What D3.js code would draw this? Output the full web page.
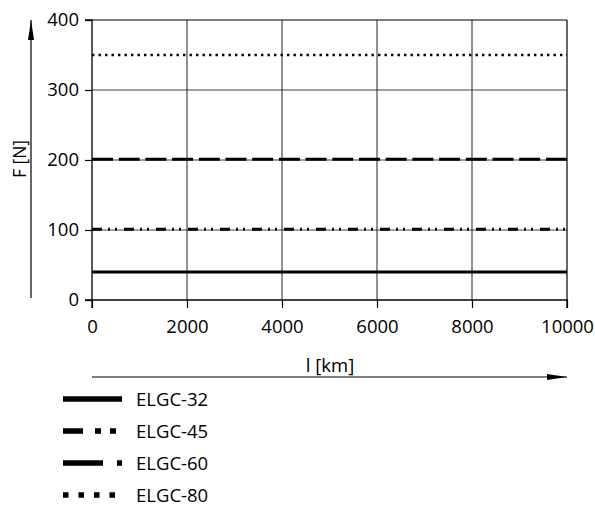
<!DOCTYPE html>
<html><head><meta charset="utf-8">
<script src="https://cdn.jsdelivr.net/npm/d3@7"></script>
<style>
body{margin:0;background:#fff;}
text{font-family:"Open Sans","Noto Sans",sans-serif;fill:#000;}
</style></head>
<body><svg id="c" width="595" height="509"></svg>
<script>
// Data
const distances = [0, 10000];             // l [km]
const seriesNames = ["ELGC-32", "ELGC-45", "ELGC-60", "ELGC-80"];
const seriesValues = [40, 101, 201, 350];  // F [N], constant over distance
const xTicks = [0, 2000, 4000, 6000, 8000, 10000];
const yTicks = [0, 100, 200, 300, 400];
const xLabel = "l [km]";
const yLabel = "F [N]";

const plotDash = ["", "10,6,2,5,2,7", "21,5.7", "2.4,4.1"];
const legendDash = ["", "20,12,6,9,6", "40,14,5", "5.5,10"];

const svg = d3.select("#c");
const m = {l: 92, r: 567, t: 20, b: 300};
const x = d3.scaleLinear().domain([0, 10000]).range([m.l, m.r]);
const y = d3.scaleLinear().domain([0, 400]).range([m.b, m.t]);

// horizontal grid (gray)
svg.append("g").selectAll("line").data(yTicks.filter(v => v > 0 && v < 400)).join("line")
  .attr("x1", m.l).attr("x2", m.r).attr("y1", d => y(d)).attr("y2", d => y(d))
  .attr("stroke", "#808080").attr("stroke-width", 1.3);
// vertical grid
svg.append("g").selectAll("line").data(xTicks.filter(v => v > 0 && v < 10000)).join("line")
  .attr("x1", d => x(d)).attr("x2", d => x(d)).attr("y1", m.t).attr("y2", m.b)
  .attr("stroke", "#222").attr("stroke-width", 1);

// top & right border
svg.append("line").attr("x1", m.l).attr("x2", m.r).attr("y1", m.t).attr("y2", m.t).attr("stroke", "#000").attr("stroke-width", 1.2);
svg.append("line").attr("x1", m.r).attr("x2", m.r).attr("y1", m.t).attr("y2", m.b).attr("stroke", "#000").attr("stroke-width", 1.2);

// axes
const yAxis = d3.axisLeft(y).tickValues(yTicks).tickSize(7).tickPadding(6);
const gy = svg.append("g").attr("transform", `translate(${m.l},0)`).call(yAxis);
const xAxis = d3.axisBottom(x).tickValues(xTicks).tickSize(8).tickPadding(12).tickFormat(d3.format("d"));
const gx = svg.append("g").attr("transform", `translate(0,${m.b})`).call(xAxis);
[gx, gy].forEach(g => {
  g.select(".domain").attr("stroke", "#000").attr("stroke-width", 1.3);
  g.selectAll(".tick line").attr("stroke", "#000").attr("stroke-width", 1.2);
  g.selectAll("text").style("font-family", '"Open Sans","Noto Sans",sans-serif').style("font-size", "18.5px").attr("fill", "#000");
});
gy.select(".domain").attr("d", `M-7,${m.b}H0V${m.t}H-7`);
gx.select(".domain").attr("d", `M${m.l},8V0H${m.r}V8`);

// series lines
const line = d3.line().x(d => x(d.x)).y(d => y(d.y));
seriesNames.forEach((n, i) => {
  svg.append("path").datum(distances.map(dx => ({x: dx, y: seriesValues[i]})))
    .attr("d", line).attr("fill", "none").attr("stroke", "#000")
    .attr("stroke-width", i === 3 ? 2.4 : 3)
    .attr("stroke-dasharray", plotDash[i] || null);
});

// arrow markers
const defs = svg.append("defs");
defs.append("marker").attr("id", "arr").attr("viewBox", "0 0 20 6").attr("refX", 20).attr("refY", 3)
  .attr("markerWidth", 20).attr("markerHeight", 6).attr("markerUnits", "userSpaceOnUse").attr("orient", "auto")
  .append("path").attr("d", "M0,0L20,3L0,6Z").attr("fill", "#000");

// y arrow
svg.append("line").attr("x1", 31).attr("x2", 31).attr("y1", 298).attr("y2", 20)
  .attr("stroke", "#000").attr("stroke-width", 1.2).attr("marker-end", "url(#arr)");
svg.append("text").attr("transform", "translate(26,159) rotate(-90)").attr("text-anchor", "middle")
  .attr("fill", "#000").style("font-size", "17.5px").text(yLabel);

// x arrow
svg.append("line").attr("x1", m.l).attr("x2", m.r).attr("y1", 377).attr("y2", 377)
  .attr("stroke", "#000").attr("stroke-width", 1.2).attr("marker-end", "url(#arr)");
svg.append("text").attr("x", 330).attr("y", 372).attr("text-anchor", "middle")
  .attr("fill", "#000").style("font-size", "18.5px").text(xLabel);

// legend
const lg = svg.append("g");
seriesNames.forEach((n, i) => {
  const yy = 399 + i * 32;
  lg.append("line").attr("x1", 63).attr("x2", i === 3 ? 118 : 122).attr("y1", yy).attr("y2", yy)
    .attr("stroke", "#000").attr("stroke-width", 5.5)
    .attr("stroke-dasharray", legendDash[i] || null);
  lg.append("text").attr("x", 136).attr("y", yy + 7).attr("fill", "#000").style("font-size", "18.5px").text(n);
});
</script></body></html>
